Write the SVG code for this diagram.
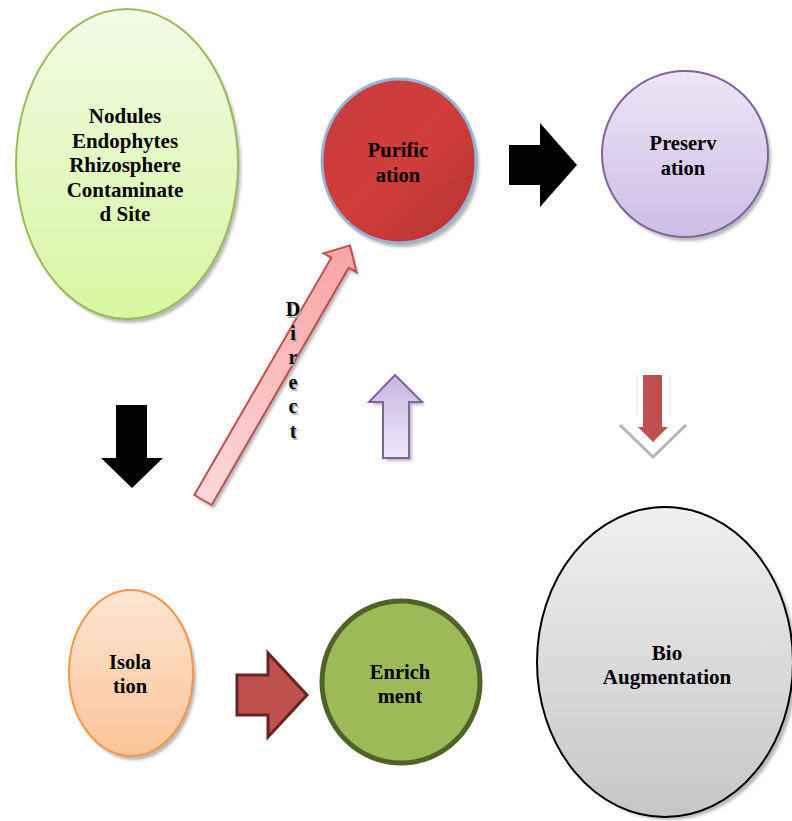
<svg xmlns="http://www.w3.org/2000/svg" width="792" height="821" viewBox="0 0 792 821">
<defs>
<linearGradient id="gGreen" x1="0" y1="0" x2="0" y2="1"><stop offset="0" stop-color="#f2fbe6"/><stop offset="1" stop-color="#d6f7a0"/></linearGradient>
<linearGradient id="gRed" x1="0" y1="0" x2="1" y2="1"><stop offset="0" stop-color="#c63c3c"/><stop offset="0.5" stop-color="#d03e3b"/><stop offset="1" stop-color="#b53232"/></linearGradient>
<linearGradient id="gPurple" x1="0" y1="0" x2="0" y2="1"><stop offset="0" stop-color="#ece6f6"/><stop offset="1" stop-color="#cdbde3"/></linearGradient>
<linearGradient id="gPeach" x1="0" y1="0" x2="0" y2="1"><stop offset="0" stop-color="#fde6d2"/><stop offset="1" stop-color="#fbc497"/></linearGradient>
<linearGradient id="gGray" x1="0" y1="0" x2="0" y2="1"><stop offset="0" stop-color="#f0f0f0"/><stop offset="1" stop-color="#c6c6c6"/></linearGradient>
<linearGradient id="gPink" x1="0" y1="0" x2="1" y2="0"><stop offset="0" stop-color="#fcd8d8"/><stop offset="1" stop-color="#f8a4a4"/></linearGradient>
<linearGradient id="gLav" x1="0" y1="0" x2="0" y2="1"><stop offset="0" stop-color="#c8b6e0"/><stop offset="1" stop-color="#eee8f7"/></linearGradient>
<filter id="sh" x="-10%" y="-10%" width="130%" height="130%"><feGaussianBlur stdDeviation="1.5"/></filter>
</defs>
<style>
.t{font-family:"Liberation Serif","Times New Roman",serif;font-weight:bold;text-anchor:middle;fill:#000}
.s{fill:#888;opacity:0.6;filter:url(#sh)}
.ts{fill:#aaa}
</style>
<rect width="792" height="821" fill="#fff"/>

<g id="connectors">
  <!-- black right arrow -->
  <polygon points="509,145 540,145 540,123 577,165 540,207 540,185 509,185" fill="#000"/>
  <!-- black down arrow -->
  <polygon points="116,405 147,405 147,458 163,458 132,488 101,458 116,458" fill="#000"/>
  <!-- diagonal pink arrow -->
  <g transform="translate(203,500) rotate(-60)">
    <polygon class="s" transform="translate(-2,4)" points="0,-10 274,-10 274,-19 294,0 274,19 274,10 0,10"/>
    <polygon points="0,-10 274,-10 274,-19 294,0 274,19 274,10 0,10" fill="url(#gPink)" stroke="#c0504d" stroke-width="2" stroke-linejoin="miter"/>
  </g>
  <!-- purple up arrow -->
  <polygon class="s" transform="translate(3,3)" points="395,375 422,402 409,402 409,458 383,458 383,402 369,402"/>
  <polygon points="395,375 422,402 409,402 409,458 383,458 383,402 369,402" fill="url(#gLav)" stroke="#8064a2" stroke-width="2"/>
  <!-- red down arrow with chevron -->
  <line x1="637" y1="375" x2="637" y2="415" stroke="#e0e0e0" stroke-width="1"/>
  <line x1="670" y1="375" x2="670" y2="415" stroke="#e0e0e0" stroke-width="1"/>
  <polyline points="620,425 653,457 686,425" fill="none" stroke="#b5b5b5" stroke-width="3"/>
  <polygon points="643,375 662,375 662,427 668,427 653,442 638,427 643,427" fill="#c0504d"/>
  <!-- red right arrow -->
  <polygon points="237,675 268,675 268,653 307,695 268,737 268,715 237,715" fill="#c0504d" stroke="#632523" stroke-width="3"/>
  <!-- Direct label -->
  <g class="t ts" font-size="20" transform="translate(1.5,1.5)">
    <text x="293" y="316">D</text>
    <text x="293" y="340">i</text>
    <text x="293" y="364">r</text>
    <text x="293" y="389">e</text>
    <text x="293" y="413">c</text>
    <text x="293" y="438">t</text>
  </g>
  <g class="t" font-size="20">
    <text x="293" y="316">D</text>
    <text x="293" y="340">i</text>
    <text x="293" y="364">r</text>
    <text x="293" y="389">e</text>
    <text x="293" y="413">c</text>
    <text x="293" y="438">t</text>
  </g>
</g>

<g id="sources">
  <ellipse class="s" cx="130" cy="168" rx="111" ry="155"/>
  <ellipse cx="127" cy="164" rx="111" ry="155" fill="url(#gGreen)" stroke="#9bbb59" stroke-width="2"/>
  <g class="t" font-size="21">
    <text x="125" y="123">Nodules</text>
    <text x="125" y="148">Endophytes</text>
    <text x="125" y="172">Rhizosphere</text>
    <text x="125" y="197">Contaminate</text>
    <text x="125" y="221">d Site</text>
  </g>
</g>

<g id="purification">
  <ellipse class="s" cx="402" cy="165" rx="77" ry="82"/>
  <ellipse cx="399" cy="161" rx="77" ry="82" fill="url(#gRed)" stroke="#95b3d7" stroke-width="3"/>
  <text class="t" font-size="20.5" x="398" y="157">Purific</text>
  <text class="t" font-size="20.5" x="398" y="182">ation</text>
</g>

<g id="preservation">
  <ellipse class="s" cx="688" cy="158" rx="83" ry="83"/>
  <ellipse cx="685" cy="154" rx="83" ry="83" fill="url(#gPurple)" stroke="#8064a2" stroke-width="2"/>
  <text class="t" font-size="20.5" x="683" y="150">Preserv</text>
  <text class="t" font-size="20.5" x="683" y="175">ation</text>
</g>

<g id="isolation">
  <ellipse class="s" cx="134" cy="677" rx="62" ry="83"/>
  <ellipse cx="131" cy="673" rx="62" ry="83" fill="url(#gPeach)" stroke="#f79646" stroke-width="2"/>
  <text class="t" font-size="20.5" x="130" y="669">Isola</text>
  <text class="t" font-size="20.5" x="130" y="693">tion</text>
</g>

<g id="enrichment">
  <ellipse cx="401" cy="682" rx="79" ry="81" fill="#9bbb59" stroke="#4f6228" stroke-width="5"/>
  <text class="t" font-size="20.5" x="400" y="679">Enrich</text>
  <text class="t" font-size="20.5" x="400" y="703">ment</text>
</g>

<g id="bioaugmentation">
  <ellipse class="s" cx="669" cy="666" rx="128" ry="154"/>
  <ellipse cx="665" cy="662" rx="128" ry="155" fill="url(#gGray)" stroke="#000" stroke-width="2"/>
  <text class="t" font-size="21" x="667" y="660">Bio</text>
  <text class="t" font-size="21" x="667" y="684">Augmentation</text>
</g>
</svg>
